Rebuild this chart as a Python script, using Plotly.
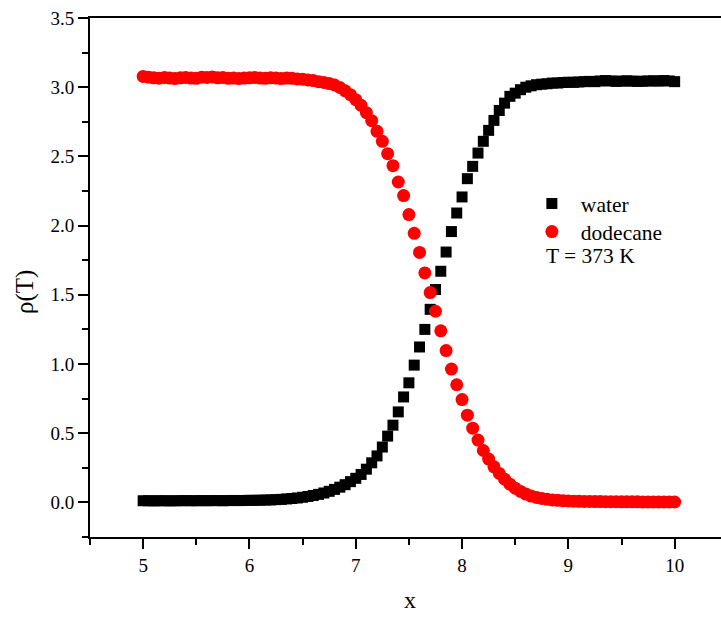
import plotly.graph_objects as go

x_vals = [
    5.00, 5.05, 5.10, 5.15, 5.20, 5.25, 5.30, 5.35, 5.40, 5.45,
    5.50, 5.55, 5.60, 5.65, 5.70, 5.75, 5.80, 5.85, 5.90, 5.95,
    6.00, 6.05, 6.10, 6.15, 6.20, 6.25, 6.30, 6.35, 6.40, 6.45,
    6.50, 6.55, 6.60, 6.65, 6.70, 6.75, 6.80, 6.85, 6.90, 6.95,
    7.00, 7.05, 7.10, 7.15, 7.20, 7.25, 7.30, 7.35, 7.40, 7.45,
    7.50, 7.55, 7.60, 7.65, 7.70, 7.75, 7.80, 7.85, 7.90, 7.95,
    8.00, 8.05, 8.10, 8.15, 8.20, 8.25, 8.30, 8.35, 8.40, 8.45,
    8.50, 8.55, 8.60, 8.65, 8.70, 8.75, 8.80, 8.85, 8.90, 8.95,
    9.00, 9.05, 9.10, 9.15, 9.20, 9.25, 9.30, 9.35, 9.40, 9.45,
    9.50, 9.55, 9.60, 9.65, 9.70, 9.75, 9.80, 9.85, 9.90, 9.95,
    10.00,
]

water = [
    0.012, 0.012, 0.011, 0.012, 0.012, 0.011, 0.012, 0.012, 0.013, 0.012,
    0.012, 0.013, 0.012, 0.013, 0.013, 0.012, 0.013, 0.014, 0.013, 0.014,
    0.015, 0.015, 0.016, 0.017, 0.018, 0.020, 0.022, 0.025, 0.028, 0.032,
    0.037, 0.043, 0.050, 0.058, 0.068, 0.080, 0.094, 0.110, 0.128, 0.150,
    0.174, 0.202, 0.240, 0.286, 0.336, 0.400, 0.479, 0.558, 0.654, 0.762,
    0.864, 0.992, 1.123, 1.250, 1.395, 1.538, 1.670, 1.809, 1.957, 2.091,
    2.207, 2.339, 2.428, 2.524, 2.609, 2.688, 2.760, 2.832, 2.885, 2.934,
    2.957, 2.982, 3.000, 3.010, 3.018, 3.022, 3.025, 3.030, 3.030, 3.034,
    3.036, 3.035, 3.038, 3.040, 3.042, 3.040, 3.045, 3.048, 3.045, 3.042,
    3.044, 3.046, 3.044, 3.042, 3.043, 3.045, 3.046, 3.044, 3.048, 3.045,
    3.040,
]

dodecane = [
    3.078, 3.072, 3.068, 3.065, 3.070, 3.066, 3.062, 3.068, 3.070, 3.066,
    3.064, 3.072, 3.070, 3.074, 3.068, 3.070, 3.064, 3.066, 3.062, 3.066,
    3.068, 3.070, 3.066, 3.064, 3.068, 3.066, 3.062, 3.066, 3.064, 3.060,
    3.058, 3.052, 3.048, 3.040, 3.034, 3.026, 3.016, 2.998, 2.974, 2.946,
    2.910, 2.869, 2.816, 2.758, 2.681, 2.609, 2.520, 2.433, 2.315, 2.217,
    2.080, 1.944, 1.806, 1.658, 1.516, 1.381, 1.240, 1.097, 0.963, 0.850,
    0.743, 0.630, 0.536, 0.450, 0.375, 0.313, 0.257, 0.209, 0.168, 0.132,
    0.103, 0.079, 0.060, 0.046, 0.036, 0.028, 0.022, 0.018, 0.015, 0.012,
    0.010, 0.009, 0.008, 0.007, 0.007, 0.006, 0.006, 0.005, 0.005, 0.005,
    0.004, 0.004, 0.004, 0.004, 0.003, 0.003, 0.003, 0.003, 0.003, 0.003,
    0.003,
]

x_ticks = [5, 6, 7, 8, 9, 10]
y_ticks = [0.0, 0.5, 1.0, 1.5, 2.0, 2.5, 3.0, 3.5]
y_ticklabels = ["0.0", "0.5", "1.0", "1.5", "2.0", "2.5", "3.0", "3.5"]

FONT = "Liberation Serif"
LEG_FONT = dict(family=FONT, size=21.5, color="black")

fig = go.Figure()
fig.add_trace(go.Scatter(
    x=x_vals, y=water, mode="markers", name="water", legend="legend",
    marker=dict(symbol="square", size=11, color="black", line=dict(width=0)),
))
fig.add_trace(go.Scatter(
    x=x_vals, y=dodecane, mode="markers", name="dodecane", legend="legend2",
    marker=dict(symbol="circle", size=13, color="#ff0000", line=dict(width=0)),
))

axis_common = dict(
    showgrid=False, zeroline=False,
    showline=True, linecolor="black", linewidth=2,
    ticks="outside", ticklen=10, tickwidth=2, tickcolor="black",
    tickfont=dict(family=FONT, size=19, color="black"),
)

fig.update_layout(
    width=721, height=617,
    margin=dict(l=90, r=0, t=18, b=80),
    paper_bgcolor="white", plot_bgcolor="white",
    font=dict(family=FONT, color="black", size=18),
    showlegend=True,
    legend=dict(
        x=0.686, y=0.682, xanchor="left", yanchor="top",
        bgcolor="rgba(0,0,0,0)", borderwidth=0, font=LEG_FONT, itemwidth=48,
    ),
    legend2=dict(
        x=0.686, y=0.628, xanchor="left", yanchor="top",
        bgcolor="rgba(0,0,0,0)", borderwidth=0, font=LEG_FONT, itemwidth=48,
    ),
    xaxis=dict(
        range=[4.5, 10.436], mirror=True,
        tickvals=x_ticks, ticktext=[str(v) for v in x_ticks],
        minor=dict(ticks="outside", ticklen=6, tickwidth=2, tickcolor="black",
                   tick0=4.5, dtick=0.5, showgrid=False),
        **axis_common,
    ),
    yaxis=dict(
        range=[-0.25, 3.5], mirror=False,
        tickvals=y_ticks, ticktext=y_ticklabels,
        minor=dict(ticks="outside", ticklen=6, tickwidth=2, tickcolor="black",
                   tick0=-0.25, dtick=0.25, showgrid=False),
        **axis_common,
    ),
)

fig.add_annotation(text="T = 373 K", x=0.719, y=0.541, xref="paper", yref="paper",
                   xanchor="left", yanchor="middle", showarrow=False, font=LEG_FONT)
fig.add_annotation(text="x", x=0.507, y=-0.121, xref="paper", yref="paper",
                   xanchor="center", yanchor="middle", showarrow=False,
                   font=dict(family=FONT, size=24, color="black"))
fig.add_annotation(text="ρ(T)", x=-0.103, y=0.472, xref="paper", yref="paper",
                   textangle=-90, showarrow=False, xanchor="center", yanchor="middle",
                   font=dict(family=FONT, size=25, color="black"))

fig.write_html("out.html")
